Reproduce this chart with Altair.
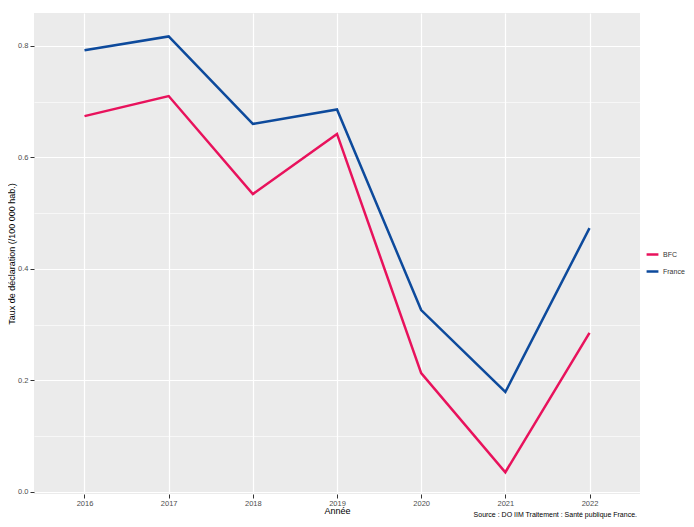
import altair as alt
import pandas as pd

years = [2016, 2017, 2018, 2019, 2020, 2021, 2022]
bfc = [0.674, 0.710, 0.534, 0.642, 0.213, 0.035, 0.285]
france = [0.792, 0.817, 0.660, 0.686, 0.326, 0.179, 0.473]
series = ["BFC", "France"]
colors = ["#E8125C", "#0D4A9C"]
y_ticks = [0.0, 0.1, 0.2, 0.3, 0.4, 0.5, 0.6, 0.7, 0.8]
caption = ["Source : DO IIM Traitement : Santé publique France."]

df = pd.DataFrame(
    {"Année": years * 2,
     "Taux": bfc + france,
     "Zone": ["BFC"] * len(years) + ["France"] * len(years)}
)

major = "round(datum.value*10) % 2 == 0"

lines = (
    alt.Chart(df)
    .mark_line(strokeWidth=2.5)
    .encode(
        x=alt.X(
            "Année:Q",
            scale=alt.Scale(domain=[2015.4, 2022.6], nice=False, zero=False),
            axis=alt.Axis(values=years, format="d", title="Année",
                          grid=True, gridColor="white", gridWidth=1.2,
                          tickColor="#333333", tickSize=4, domain=False,
                          labelColor="#4D4D4D", labelFontSize=7.5, labelPadding=1,
                          titleFontSize=9, titleColor="#000000", titleFontWeight="normal",
                          titlePadding=0, labelFont="Liberation Sans", titleFont="Liberation Sans"),
        ),
        y=alt.Y(
            "Taux:Q",
            scale=alt.Scale(domain=[-0.004, 0.859], nice=False, zero=False),
            axis=alt.Axis(values=y_ticks,
                          labelExpr=f"{major} ? format(datum.value, '.1f') : ''",
                          title="Taux de déclaration (/100 000 hab.)",
                          grid=True, gridColor="white",
                          gridWidth={"condition": {"test": major, "value": 1.2}, "value": 0.6},
                          tickColor={"condition": {"test": major, "value": "#333333"}, "value": "transparent"},
                          tickSize=4, domain=False,
                          labelColor="#4D4D4D", labelFontSize=7.5, labelPadding=2,
                          titleFontSize=9, titleColor="#000000", titleFontWeight="normal",
                          titlePadding=1, labelFont="Liberation Sans", titleFont="Liberation Sans"),
        ),
        color=alt.Color(
            "Zone:N",
            scale=alt.Scale(domain=series, range=colors),
            legend=alt.Legend(title=None, orient="none", legendX=611, legendY=234,
                              symbolType="stroke", symbolStrokeWidth=2.5, symbolSize=140,
                              labelFontSize=7, labelColor="#333333", labelFont="Liberation Sans",
                              rowPadding=4, labelOffset=3),
        ),
    )
)

cap = (
    alt.Chart(pd.DataFrame({"t": caption}))
    .mark_text(align="right", baseline="bottom", fontSize=7, font="Liberation Sans", color="#000000")
    .encode(text="t:N", x=alt.value(603), y=alt.value(505))
)

chart = (
    alt.layer(lines, cap)
    .properties(
        width=606,
        height=481,
        autosize=alt.AutoSizeParams(type="none"),
        padding={"left": 26, "top": 5, "right": 46, "bottom": 25},
    )
    .configure_view(fill="#EBEBEB", stroke=None)
)

chart.save("out.html", embed_options={"renderer": "svg", "actions": False})
